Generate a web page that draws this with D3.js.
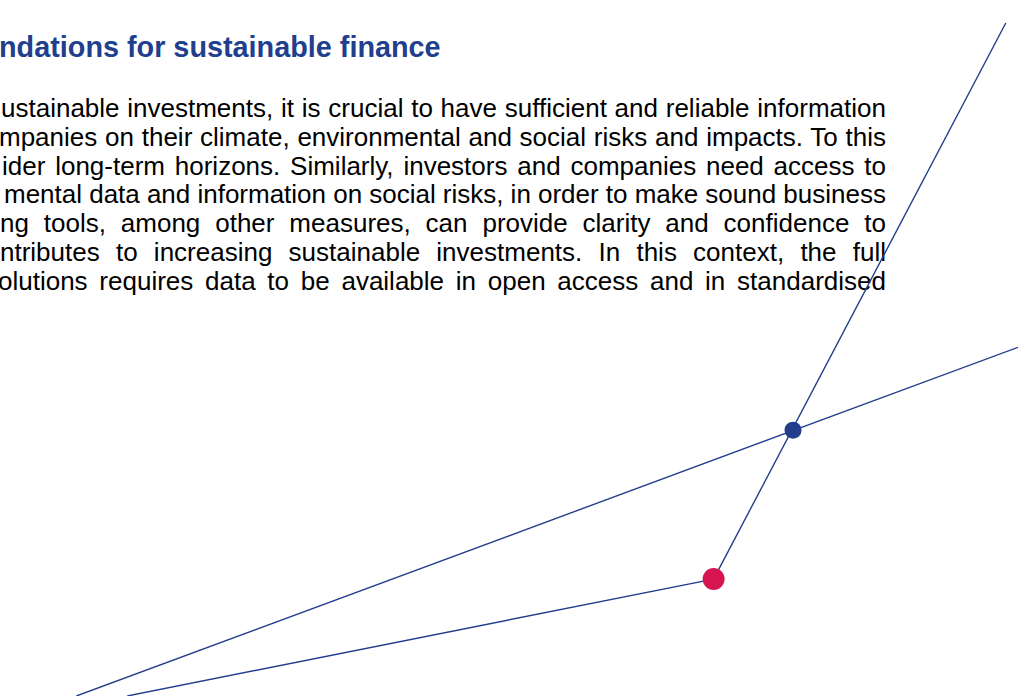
<!DOCTYPE html>
<html>
<head>
<meta charset="utf-8">
<script src="https://cdn.jsdelivr.net/npm/d3@7"></script>
<style>
  html, body { margin: 0; padding: 0; background: #fff; overflow: hidden; }
  text { font-family: "Liberation Sans", Arial, sans-serif; }
</style>
</head>
<body>
<div id="chart"></div>
<script>
// page text (left side of the page is cut off in the source)
var title = "ndations for sustainable finance";
var bodyLines = [
    "ustainable investments, it is crucial to have sufficient and reliable information",
    "mpanies on their climate, environmental and social risks and impacts. To this",
    "ider long-term horizons. Similarly, investors and companies need access to",
    "mental data and information on social risks, in order to make sound business",
    "ng tools, among other measures, can provide clarity and confidence to",
    "ntributes to increasing sustainable investments. In this context, the full",
    "olutions requires data to be available in open access and in standardised"
];

// decorative network, in percent of the page (x: width, y: height)
var lineFrom = [[7.5, 100], [98.8, 3.3], [70.1, 83.2]];
var lineTo   = [[100, 49.9], [70.1, 83.2], [12.5, 100]];
var dotPos   = [[77.9, 61.8], [70.1, 83.2]];
var dotKind  = ["hub", "start"];

var W = 1018, H = 696;
var blue = "#233f8c", red = "#d71550";

var x = d3.scaleLinear().domain([0, 100]).range([0, W]);
var y = d3.scaleLinear().domain([0, 100]).range([0, H]);
var dotR = d3.scaleOrdinal().domain(dotKind).range([8.5, 11]);
var dotColor = d3.scaleOrdinal().domain(dotKind).range([blue, red]);

var main = d3.select("#chart").append("svg")
    .attr("width", W).attr("height", H);

// title
main.append("text")
    .attr("x", -1).attr("y", 57)
    .attr("fill", "#213f8d")
    .attr("font-size", "28.8px")
    .attr("font-weight", "bold")
    .text(title);

// justified paragraph: right edge fixed, word spacing stretched to fill
var rightEdge = 886;
var lineStart = [1, -1, 2, 4, 0, 0, -2];   // where the visible part starts
var lineY = d3.scaleLinear().domain([0, 1]).range([117, 145.8]);

var para = main.append("g");
bodyLines.forEach(function (s, i) {
    var t = para.append("text")
        .attr("x", lineStart[i]).attr("y", lineY(i))
        .attr("fill", "#000")
        .attr("font-size", "26px")
        .text(s);
    var natural = t.node().getComputedTextLength();
    var gaps = s.split(" ").length - 1;
    var extra = (rightEdge - lineStart[i] - natural) / gaps;
    t.attr("word-spacing", extra.toFixed(2) + "px");
});

// lines
main.selectAll(".link")
    .data(d3.zip(lineFrom, lineTo))
    .enter().append("line")
    .attr("class", "link")
    .attr("x1", function (d) { return x(d[0][0]); })
    .attr("y1", function (d) { return y(d[0][1]); })
    .attr("x2", function (d) { return x(d[1][0]); })
    .attr("y2", function (d) { return y(d[1][1]); })
    .attr("stroke", blue)
    .attr("stroke-width", 1.4);

// dots
main.selectAll(".dot")
    .data(d3.zip(dotPos, dotKind))
    .enter().append("circle")
    .attr("class", "dot")
    .attr("cx", function (d) { return x(d[0][0]); })
    .attr("cy", function (d) { return y(d[0][1]); })
    .attr("r", function (d) { return dotR(d[1]); })
    .attr("fill", function (d) { return dotColor(d[1]); });
</script>
</body>
</html>
